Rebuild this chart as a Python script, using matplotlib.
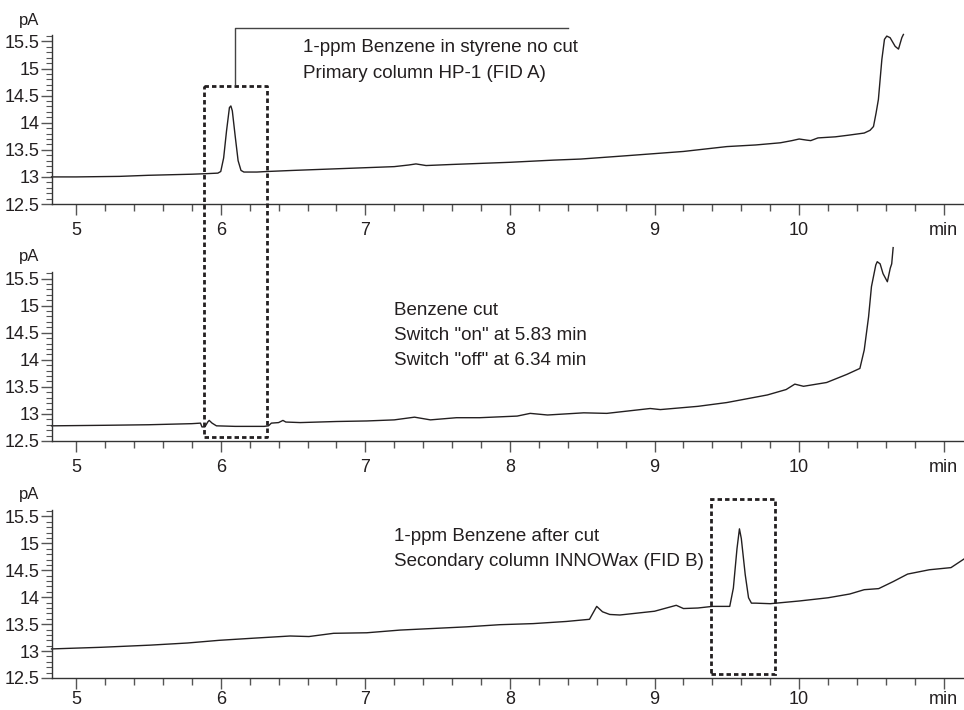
import matplotlib.pyplot as plt
from matplotlib.patches import Rectangle
from matplotlib.lines import Line2D
from matplotlib.ticker import MultipleLocator, FormatStrFormatter

# top: benzene in styrene, no cut (FID A)
nocut_t = [4.83, 5.0, 5.3, 5.5, 5.8, 5.9, 5.98, 6.00, 6.02, 6.04, 6.06, 6.07, 6.08, 6.10,
           6.12, 6.14, 6.16, 6.25, 6.32, 6.5, 6.8, 7.0, 7.2, 7.3, 7.35, 7.42, 7.6, 7.8,
           8.0, 8.3, 8.49, 8.8, 9.0, 9.2, 9.5, 9.7, 9.87, 9.95, 10.0, 10.05, 10.08, 10.13,
           10.25, 10.34, 10.45, 10.49, 10.514, 10.532, 10.548, 10.572, 10.59, 10.606,
           10.629, 10.664, 10.687, 10.71, 10.721]
nocut_pa = [13.00, 13.00, 13.01, 13.03, 13.05, 13.06, 13.07, 13.10, 13.35, 13.85, 14.28, 14.31,
            14.22, 13.75, 13.30, 13.12, 13.09, 13.09, 13.10, 13.12, 13.15, 13.17, 13.19, 13.22,
            13.24, 13.21, 13.23, 13.25, 13.27, 13.31, 13.33, 13.39, 13.43, 13.47, 13.56, 13.59,
            13.63, 13.67, 13.70, 13.68, 13.67, 13.72, 13.74, 13.77, 13.81, 13.86, 13.93, 14.18,
            14.43, 15.17, 15.54, 15.60, 15.57, 15.41, 15.36, 15.57, 15.63]

# middle: benzene cut
cut_t = [4.83, 5.2, 5.5, 5.8, 5.86, 5.87, 5.89, 5.91, 5.92, 5.94, 5.97, 6.1, 6.3, 6.33, 6.35,
         6.40, 6.43, 6.45, 6.55, 6.8, 7.01, 7.2, 7.34, 7.45, 7.63, 7.79, 8.05, 8.14, 8.26,
         8.51, 8.67, 8.97, 9.04, 9.3, 9.5, 9.78, 9.91, 9.97, 10.03, 10.19, 10.33, 10.42, 10.45,
         10.48, 10.50, 10.53, 10.54, 10.56, 10.58, 10.61, 10.63, 10.64, 10.65]
cut_pa = [12.78, 12.79, 12.80, 12.82, 12.83, 12.76, 12.76, 12.85, 12.88, 12.83, 12.78, 12.77,
          12.77, 12.78, 12.83, 12.84, 12.88, 12.85, 12.84, 12.86, 12.87, 12.89, 12.94, 12.89,
          12.93, 12.93, 12.96, 13.01, 12.98, 13.02, 13.01, 13.10, 13.08, 13.14, 13.21, 13.35,
          13.45, 13.55, 13.51, 13.58, 13.73, 13.84, 14.18, 14.79, 15.35, 15.75, 15.81, 15.77,
          15.59, 15.44, 15.69, 15.77, 16.07]

# bottom: after cut (FID B)
after_t = [4.83, 5.17, 5.51, 5.77, 5.99, 6.23, 6.48, 6.61, 6.78, 7.01, 7.24, 7.47, 7.70, 7.93,
           8.16, 8.39, 8.55, 8.60, 8.64, 8.69, 8.76, 9.0, 9.15, 9.2, 9.3, 9.4, 9.52, 9.545,
           9.57, 9.587, 9.60, 9.627, 9.65, 9.67, 9.7, 9.8, 10.0, 10.1, 10.2, 10.35, 10.45,
           10.55, 10.65, 10.75, 10.9, 11.05, 11.14]
after_pa = [13.04, 13.07, 13.11, 13.15, 13.20, 13.24, 13.28, 13.27, 13.33, 13.34, 13.39, 13.42,
            13.45, 13.49, 13.51, 13.55, 13.59, 13.83, 13.73, 13.68, 13.67, 13.74, 13.85, 13.79,
            13.80, 13.83, 13.83, 14.17, 14.90, 15.27, 15.09, 14.42, 13.99, 13.89, 13.89, 13.88,
            13.93, 13.96, 13.99, 14.06, 14.14, 14.16, 14.29, 14.43, 14.51, 14.55, 14.71]

x_ticks = [5, 6, 7, 8, 9, 10, 11]
x_labels = ['5', '6', '7', '8', '9', '10', 'min']

notes_top = ['1-ppm Benzene in styrene no cut', 'Primary column HP-1 (FID A)']
notes_mid = ['Benzene cut', 'Switch "on" at 5.83 min', 'Switch "off" at 6.34 min']
notes_bot = ['1-ppm Benzene after cut', 'Secondary column INNOWax (FID B)']

ink = '#231f20'
plt.rcParams['font.family'] = ['Liberation Sans Narrow', 'Liberation Sans', 'DejaVu Sans']

W, H = 964, 710
fig = plt.figure(figsize=(W / 100, H / 100), dpi=100)


def panel(top_px, bottom_px, t, pa, xpad):
    ax = fig.add_axes([52 / W, 1 - bottom_px / H, 912 / W, (bottom_px - top_px) / H])
    ax.plot(t, pa, color=ink, lw=1.0, clip_on=False)
    ax.set_xlim(4.833, 11.14)
    ax.set_ylim(12.5, 15.62)
    for s in ['top', 'right']:
        ax.spines[s].set_visible(False)
    for s in ['left', 'bottom']:
        ax.spines[s].set_color('#333333')
        ax.spines[s].set_linewidth(1.0)
    ax.set_xticks(x_ticks)
    ax.set_xticklabels(x_labels)
    ax.xaxis.set_minor_locator(MultipleLocator(0.2))
    ax.yaxis.set_major_locator(MultipleLocator(0.5))
    ax.yaxis.set_minor_locator(MultipleLocator(0.1))
    ax.yaxis.set_major_formatter(FormatStrFormatter('%g'))
    ax.tick_params(axis='x', which='major', length=8, width=1, color='#555555', pad=xpad,
                   labelsize=13, labelcolor=ink)
    ax.tick_params(axis='x', which='minor', length=5, width=1, color='#555555')
    ax.tick_params(axis='y', which='major', length=8, width=1, color='#555555', pad=1,
                   labelsize=13, labelcolor=ink)
    ax.tick_params(axis='y', which='minor', length=4, width=0.8, color='#555555')
    fig.text(29 / W, 1 - (top_px - 15) / H, 'pA', ha='center', va='center', fontsize=12,
             color=ink)
    return ax


ax1 = panel(35, 204, nocut_t, nocut_pa, 5)
ax2 = panel(272, 441, cut_t, cut_pa, 5)
ax3 = panel(510, 678, after_t, after_pa, 1.5)

# call-out line for the top panel
ax1.plot([6.10, 6.10, 8.40], [14.72, 15.74, 15.74], color='#444444', lw=1.0, clip_on=False)

for i, s in enumerate(notes_top):
    ax1.text(6.57, 15.39 - i * 0.48, s, ha='left', va='center', fontsize=13.5, color=ink,
             family=['Liberation Sans', 'DejaVu Sans'])
for i, s in enumerate(notes_mid):
    ax2.text(7.20, 14.90 - i * 0.46, s, ha='left', va='center', fontsize=13.5, color=ink,
             family=['Liberation Sans', 'DejaVu Sans'])
for i, s in enumerate(notes_bot):
    ax3.text(7.20, 15.12 - i * 0.46, s, ha='left', va='center', fontsize=13.5, color=ink,
             family=['Liberation Sans', 'DejaVu Sans'])

dots = (0, (1.6, 1.1))

# cut window box spanning top and middle panels
inv = fig.transFigure.inverted()
x0, y0 = inv.transform(ax1.transData.transform((5.885, 14.685)))
x1, _ = inv.transform(ax1.transData.transform((6.32, 14.685)))
_, y1 = inv.transform(ax2.transData.transform((5.885, 12.58)))
fig.add_artist(Line2D([x0, x1, x1, x0, x0], [y0, y0, y1, y1, y0], transform=fig.transFigure,
                      color=ink, lw=2.0, linestyle=dots))

# heart-cut peak box in bottom panel
ax3.add_patch(Rectangle((9.39, 12.57), 0.44, 3.25, fill=False, edgecolor=ink, lw=2.0,
                        linestyle=dots, clip_on=False))

plt.savefig('out.png', dpi=100)
